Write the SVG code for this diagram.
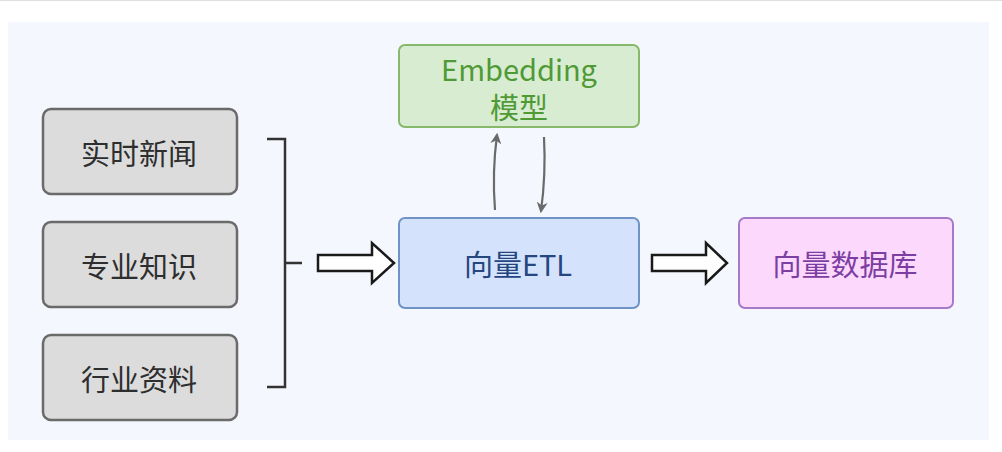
<svg xmlns="http://www.w3.org/2000/svg" width="1002" height="452" viewBox="0 0 1002 452">
<defs>
<style>
.t{font-family:"Noto Sans CJK SC","Noto Sans",sans-serif;font-size:29px;font-weight:400;text-anchor:middle;dominant-baseline:central}
.src rect{fill:#dcdcdc;stroke:#6a6a6a;stroke-width:2.5}
.src text{fill:#2e2e2e}
.hollow{fill:#ffffff;stroke:#1a1a1a;stroke-width:2.5;stroke-linejoin:miter}
.thin{fill:none;stroke:#6a6a6a;stroke-width:2.2}
</style>
<marker id="ah" viewBox="0 0 10 10" refX="8" refY="5" markerWidth="5" markerHeight="5" orient="auto">
<path d="M0,0 L10,5 L0,10 L3,5 Z" fill="#6a6a6a"/>
</marker>
</defs>
<rect x="0" y="0" width="1002" height="452" fill="#ffffff"/>
<line x1="0" y1="0.5" x2="1002" y2="0.5" stroke="#e0e0e0"/>
<rect x="8" y="22" width="981" height="418" fill="#f4f7fd"/>

<g id="n1" class="src"><rect x="43" y="109" width="194" height="85" rx="8"/><text class="t" x="139" y="152">实时新闻</text></g>
<g id="n2" class="src"><rect x="43" y="222" width="194" height="85" rx="8"/><text class="t" x="139" y="265">专业知识</text></g>
<g id="n3" class="src"><rect x="43" y="335" width="194" height="85" rx="8"/><text class="t" x="139" y="378">行业资料</text></g>

<g id="emb"><rect x="399" y="45" width="240" height="82" rx="6" fill="#d8ecd2" stroke="#86b96a" stroke-width="2"/>
<text class="t" x="519" y="68" fill="#4f9a35">Embedding</text>
<text class="t" x="519" y="106" fill="#4f9a35">模型</text></g>

<g id="etl"><rect x="399" y="218" width="240" height="90" rx="6" fill="#d4e3fb" stroke="#6f93c6" stroke-width="2"/>
<text class="t" x="518" y="263" fill="#25467f">向量ETL</text></g>

<g id="db"><rect x="739" y="218" width="214" height="90" rx="6" fill="#fcd8fd" stroke="#a57bc9" stroke-width="2"/>
<text class="t" x="845" y="263" fill="#7d3ea3">向量数据库</text></g>

<g id="connectors">
<path d="M267,139 H285 V387 H267 M285,263 H302" fill="none" stroke="#333" stroke-width="2.5"/>
<path class="hollow" d="M318,255 H372 V243 L394,263 L372,283 V271 H318 Z"/>
<path class="hollow" d="M652,255 H706 V243 L727,263 L706,283 V271 H652 Z"/>
<path class="thin" d="M495,210 Q492,172 497,135" marker-end="url(#ah)"/>
<path class="thin" d="M544,137 Q546,175 541,211" marker-end="url(#ah)"/>
</g>
</svg>
